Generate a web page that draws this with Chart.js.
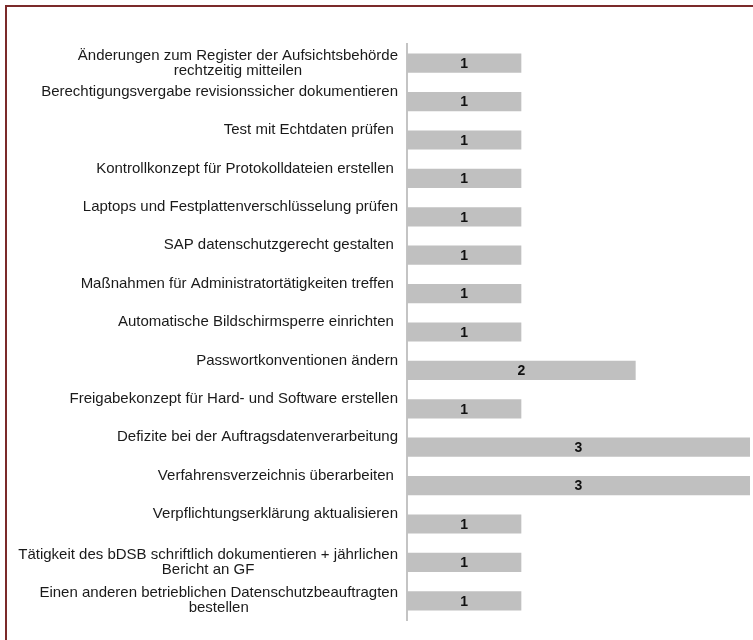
<!DOCTYPE html>
<html>
<head>
<meta charset="utf-8">
<script src="https://cdn.jsdelivr.net/npm/chart.js@4.4.1/dist/chart.umd.min.js"></script>
<style>
  html, body { margin: 0; padding: 0; background: #fff; overflow: hidden; }
  #frame { position: absolute; left: 5px; top: 5px; width: 800px; height: 700px; border: 2px solid #7b2a2a; }
  #chart { position: absolute; left: 0; top: 0; }
</style>
</head>
<body>
<div id="frame"></div>
<canvas id="chart" width="753" height="640"></canvas>
<script>
// categories (one entry per bar, lines of the label)
const categories = [
  ['Änderungen zum Register der Aufsichtsbehörde', 'rechtzeitig mitteilen'],
  ['Berechtigungsvergabe revisionssicher dokumentieren'],
  ['Test mit Echtdaten prüfen '],
  ['Kontrollkonzept für Protokolldateien erstellen '],
  ['Laptops und Festplattenverschlüsselung prüfen'],
  ['SAP datenschutzgerecht gestalten '],
  ['Maßnahmen für Administratortätigkeiten treffen '],
  ['Automatische Bildschirmsperre einrichten '],
  ['Passwortkonventionen ändern'],
  ['Freigabekonzept für Hard- und Software erstellen'],
  ['Defizite bei der Auftragsdatenverarbeitung'],
  ['Verfahrensverzeichnis überarbeiten '],
  ['Verpflichtungserklärung aktualisieren'],
  ['Tätigkeit des bDSB schriftlich dokumentieren + jährlichen', 'Bericht an GF'],
  ['Einen anderen betrieblichen Datenschutzbeauftragten', 'bestellen']
];
const counts = [1, 1, 1, 1, 1, 1, 1, 1, 2, 1, 3, 3, 1, 1, 1];
const axisMax = 3;

const FONT = '"Liberation Sans", Arial, sans-serif';
const lineH = 15;
const labelRight = 398;

// category labels: block right aligned, lines centred inside the block
const sideLabels = {
  id: 'sideLabels',
  afterDraw(chart) {
    const ctx = chart.ctx;
    const y = chart.scales.y;
    ctx.save();
    ctx.font = '15px ' + FONT;
    ctx.fillStyle = '#1a1a1a';
    ctx.textBaseline = 'middle';
    ctx.textAlign = 'center';
    categories.forEach((lines, i) => {
      const py = y.getPixelForTick(i);
      const block = Math.max(...lines.map(l => ctx.measureText(l).width));
      const cx = labelRight - block / 2;
      const top = lines.length > 1 ? py - (lines.length - 1) * lineH / 2 : py - 10;
      lines.forEach((l, k) => ctx.fillText(l, cx, top + k * lineH));
    });
    ctx.restore();
  }
};

// value in the middle of each bar
const barValues = {
  id: 'barValues',
  afterDatasetsDraw(chart) {
    const ctx = chart.ctx;
    const meta = chart.getDatasetMeta(0);
    ctx.save();
    ctx.font = 'bold 14px ' + FONT;
    ctx.fillStyle = '#111';
    ctx.textAlign = 'center';
    ctx.textBaseline = 'middle';
    meta.data.forEach((bar, i) => {
      ctx.fillText(String(counts[i]), (bar.base + bar.x) / 2, bar.y + 1);
    });
    ctx.restore();
  }
};

new Chart(document.getElementById('chart'), {
  type: 'bar',
  data: {
    labels: categories,
    datasets: [{
      data: counts,
      backgroundColor: '#c0c0c0',
      borderWidth: 0,
      barPercentage: 0.5,
      categoryPercentage: 1
    }]
  },
  options: {
    indexAxis: 'y',
    responsive: false,
    animation: false,
    devicePixelRatio: 1,
    layout: { padding: { top: 44, bottom: 20, right: 3, left: 0 } },
    plugins: { legend: { display: false }, tooltip: { enabled: false } },
    scales: {
      x: { display: false, min: 0, max: axisMax },
      y: {
        grid: { display: false },
        border: { color: '#c4c4c4', width: 2 },
        ticks: { display: false },
        afterFit(scale) { scale.width = 407; }
      }
    }
  },
  plugins: [sideLabels, barValues]
});
</script>
</body>
</html>
